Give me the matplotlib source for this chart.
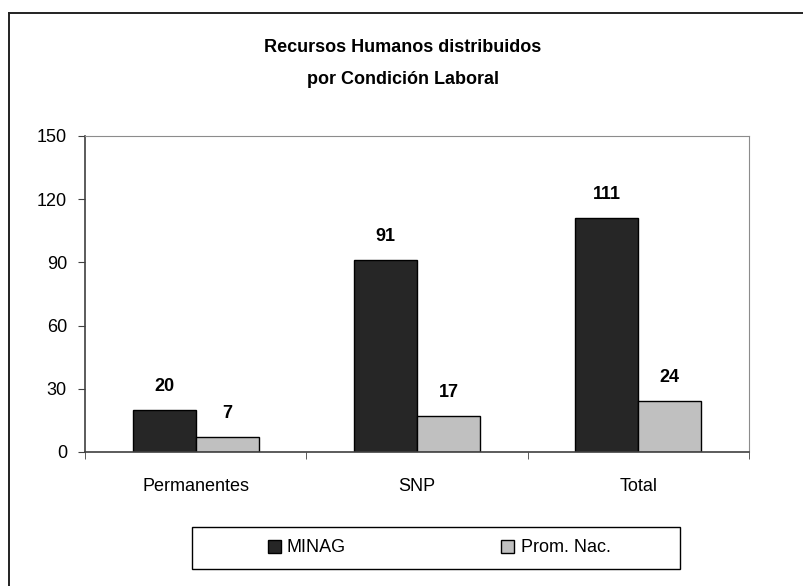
import matplotlib
matplotlib.use("Agg")
import matplotlib.pyplot as plt
from matplotlib.lines import Line2D
from matplotlib.patches import Rectangle
import numpy as np

plt.rcParams['font.family'] = ['Liberation Sans', 'DejaVu Sans']

categories = ["Permanentes", "SNP", "Total"]
minag = [20, 91, 111]
prom_nac = [7, 17, 24]
series_names = ["MINAG", "Prom. Nac."]
yticks = [0, 30, 60, 90, 120, 150]

W, H = 804, 586
fig = plt.figure(figsize=(W/100, H/100), dpi=100)

# outer chart border (only top and left edges visible in the crop)
fig.add_artist(Line2D([9/W, 1], [1-13/H, 1-13/H], transform=fig.transFigure, color='#222222', lw=1.4))
fig.add_artist(Line2D([9/W, 9/W], [0, 1-13/H], transform=fig.transFigure, color='#222222', lw=1.4))

ax = fig.add_axes([85/W, 1-452/H, 664/W, 316/H])
x = np.arange(len(categories))
w = 0.285
b1 = ax.bar(x - w/2, minag, w, color='#262626', edgecolor='black', linewidth=1.0, label=series_names[0])
b2 = ax.bar(x + w/2, prom_nac, w, color='#c0c0c0', edgecolor='black', linewidth=1.0, label=series_names[1])
for bars, vals in ((b1, minag), (b2, prom_nac)):
    for r, v in zip(bars, vals):
        ax.annotate(str(v), (r.get_x() + r.get_width()/2, v), xytext=(0, 17),
                    textcoords='offset points', ha='center', va='center',
                    fontsize=13, fontweight='bold')

ax.set_xlim(-0.5, 2.5)
ax.set_ylim(0, 150)
ax.set_yticks(yticks)
ax.set_yticklabels([str(t) for t in yticks], fontsize=13)
ax.set_xticks(x)
ax.set_xticklabels(categories, fontsize=13)
ax.tick_params(axis='x', length=0, pad=19)
ax.set_xticks([-0.5, 0.5, 1.5, 2.5], minor=True)
ax.tick_params(axis='x', which='minor', length=5, direction='out', color='#404040')
ax.tick_params(axis='y', length=5, direction='out', color='#404040', pad=8)
for s in ('top', 'right'):
    ax.spines[s].set_color('#8c8c8c')
for s in ('left', 'bottom'):
    ax.spines[s].set_color('#404040')
    ax.spines[s].set_linewidth(1.2)

fig.text(403/W, 1-52/H, "Recursos Humanos distribuidos", ha='center', va='baseline',
         fontsize=13, fontweight='bold')
fig.text(403/W, 1-84/H, "por Condición Laboral", ha='center', va='baseline',
         fontsize=13, fontweight='bold')

# legend box
fig.add_artist(Rectangle((192/W, 1-569/H), 488/W, 42/H, transform=fig.transFigure,
                         fill=False, edgecolor='black', linewidth=1.0))
leg = fig.legend(handles=[b1, b2], labels=series_names, loc='center',
                 bbox_to_anchor=(439/W, 1-548/H), ncol=2, frameon=False, fontsize=13,
                 handlelength=0.72, handleheight=0.72, handletextpad=0.35,
                 borderaxespad=0, borderpad=0, columnspacing=8.6)

fig.savefig("out.png", dpi=100)
